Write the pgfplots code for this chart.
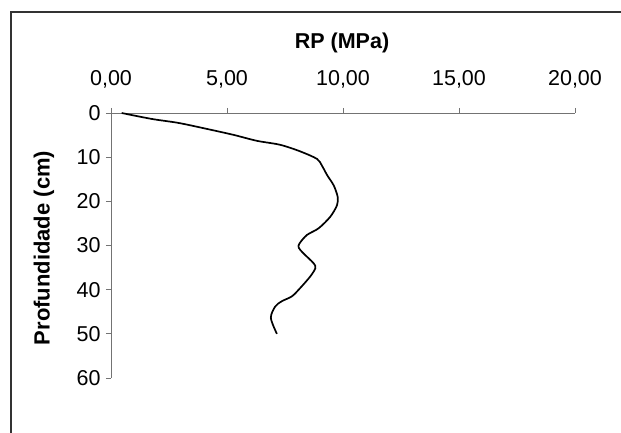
\documentclass[border=0pt]{standalone}
\usepackage{pgfplots}
\pgfplotsset{compat=1.18}
\usepackage{fontspec}
\setmainfont{Liberation Sans}
\begin{document}
\begin{tikzpicture}
\useasboundingbox (0,0) rectangle (621pt,433pt);
\draw[line width=1.4pt, black!80] (11pt,0pt) -- (11pt,421pt) -- (621pt,421pt);
\begin{axis}[
  scale only axis,
  width=464pt, height=265pt,
  at={(111pt,320pt)}, anchor=north west,
  xmin=0, xmax=20, ymin=0, ymax=60,
  y dir=reverse,
  axis x line=top, axis y line=left,
  axis line style={-, black!55, line width=0.8pt},
  xtick={0,5,10,15,20}, ytick={0,10,20,30,40,50,60},
  tick align=outside, major tick length=5pt,
  tick style={black!55, line width=0.8pt},
  /pgf/number format/assume math mode=true,
  xticklabel style={/pgf/number format/.cd, fixed, fixed zerofill, precision=2, use comma, /tikz/.cd, yshift=16pt},
  yticklabel style={xshift=-2pt},
  ticklabel style={font=\fontsize{21.5}{25}\selectfont},
  clip=false,
]
\addplot[black, line width=1.7pt, smooth] coordinates {
(0.46,0) (1.76,1.35) (2.91,2.25) (4.13,3.6) (5.28,4.95) (6.29,6.3) (7.29,7.2)
(8.16,8.7) (8.88,10.4) (9.09,11.9) (9.32,14.1) (9.6,16.4) (9.77,19.0) (9.74,20.9)
(9.45,23.5) (8.95,26.1) (8.45,27.6) (8.13,29.5) (8.09,30.5) (8.3,31.8) (8.73,34.0)
(8.81,35.1) (8.59,37.0) (8.16,39.6) (7.8,41.5) (7.37,42.6) (7.08,43.8) (6.89,46.4) (7.15,50.0)
};
\end{axis}
\node[font=\fontsize{21.5}{25}\selectfont\bfseries] at (342pt,390pt) {RP (MPa)};
\node[font=\fontsize{22}{26}\selectfont\bfseries, rotate=90] at (44pt,185pt) {Profundidade (cm)};
\end{tikzpicture}
\end{document}
